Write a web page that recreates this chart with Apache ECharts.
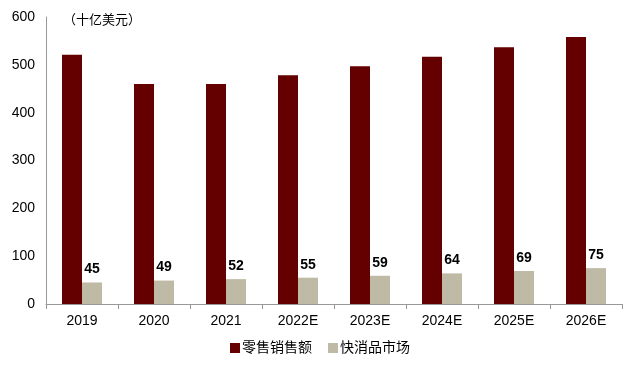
<!DOCTYPE html>
<html><head><meta charset="utf-8">
<script src="https://cdn.jsdelivr.net/npm/echarts@6/dist/echarts.min.js"></script>
<style>html,body{margin:0;padding:0;background:#fff}#c{width:640px;height:367px}</style>
</head><body><div id="c"></div>
<script>
var categories = ['2019','2020','2021','2022E','2023E','2024E','2025E','2026E'];
var retailSales = [521, 460, 460, 478, 497, 517, 537, 558];
var fmcgMarket = [45, 49, 52, 55, 59, 64, 69, 75];
var yTicks = [0, 100, 200, 300, 400, 500, 600];
var unitLabel = '（十亿美元）';
var seriesNames = ['零售销售额', '快消品市场'];

var font = '"Liberation Sans", Arial, "Noto Sans CJK SC", sans-serif';
var chart = echarts.init(document.getElementById('c'));
chart.setOption({
  animation: false,
  textStyle: {fontFamily: font},
  grid: {left: 46, right: 18, top: 17, bottom: 63},
  title: {text: unitLabel, left: 58, top: 9, textStyle: {fontSize: 13, fontWeight: 'normal', color: '#000', fontFamily: font}},
  legend: {
    bottom: 7, left: 'center', itemWidth: 10, itemHeight: 10, itemGap: 16,
    icon: 'rect',
    textStyle: {fontSize: 14, color: '#000', fontFamily: font, padding: [0,0,0,-3]},
    data: seriesNames
  },
  xAxis: {
    type: 'category', data: categories,
    axisLine: {lineStyle: {color: '#999'}},
    axisTick: {show: true, length: 5, lineStyle: {color: '#999'}},
    axisLabel: {fontSize: 14, color: '#000', margin: 10}
  },
  yAxis: {
    type: 'value', min: yTicks[0], max: yTicks[yTicks.length-1], interval: 100,
    axisLine: {show: true, lineStyle: {color: '#999'}},
    axisTick: {show: false},
    splitLine: {show: false},
    axisLabel: {fontSize: 14, color: '#000', margin: 11}
  },
  series: [
    {name: seriesNames[0], type: 'bar', data: retailSales, barWidth: 20, barGap: '0%',
     itemStyle: {color: '#640000'}},
    {name: seriesNames[1], type: 'bar', data: fmcgMarket, barWidth: 20,
     itemStyle: {color: '#BEBAA6'},
     label: {show: true, position: 'top', distance: 6, fontSize: 14, fontWeight: 'bold', color: '#000'}}
  ]
});
</script></body></html>
